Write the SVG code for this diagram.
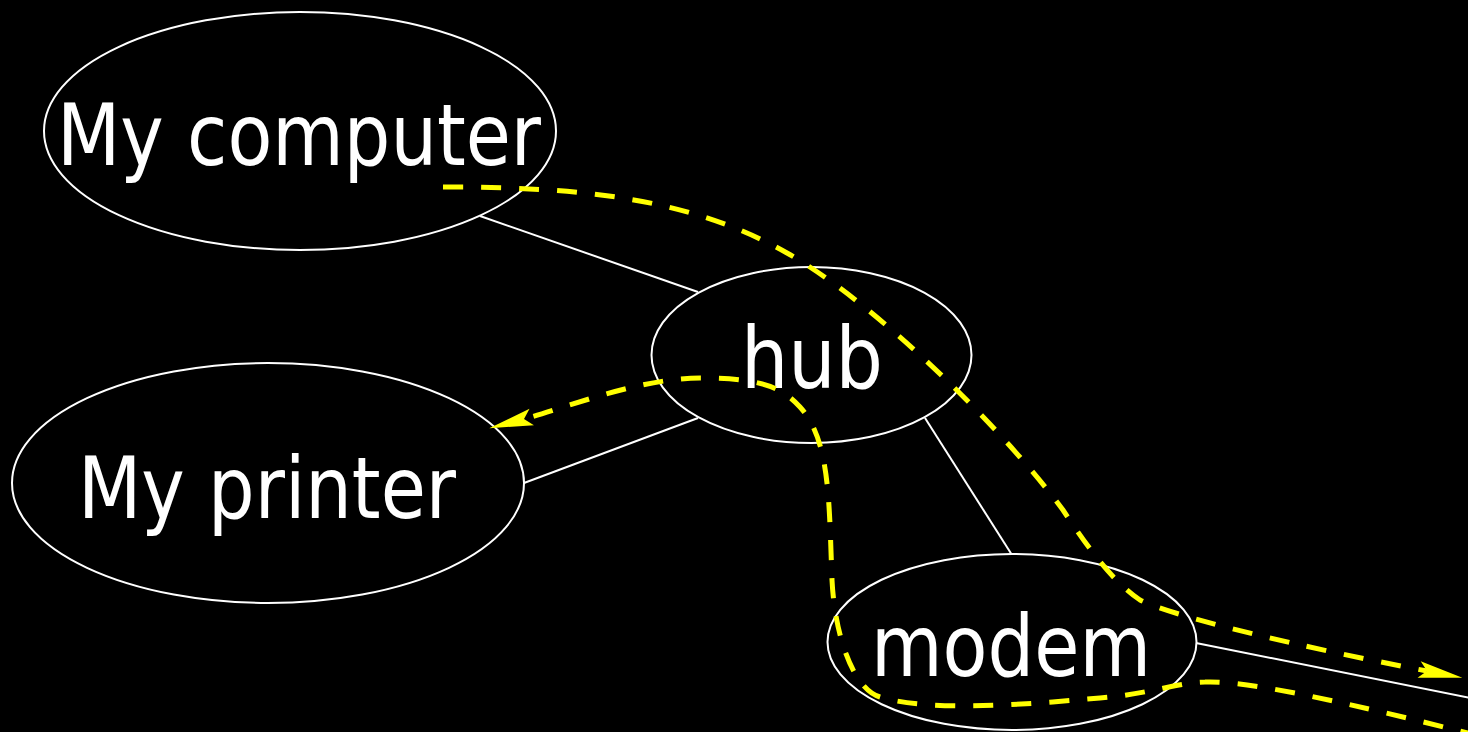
<svg xmlns="http://www.w3.org/2000/svg" width="1476" height="732" viewBox="0 0 1476 732">
  <style>
    .node ellipse { fill: #000000; stroke: #ffffff; stroke-width: 2; }
    .node text { fill: #ffffff; font-family: "DejaVu Sans", "Liberation Sans", sans-serif; font-stretch: condensed; font-size: 86px; text-anchor: middle; }
    .edge { stroke: #ffffff; stroke-width: 2; fill: none; }
    .flow { stroke: #ffff00; stroke-width: 5; fill: none; stroke-dasharray: 20 18; }
  </style>
  <defs>
    <marker id="arrow" markerUnits="userSpaceOnUse" viewBox="-46 -11 48 22" markerWidth="48" markerHeight="22" refX="-36" refY="0" orient="auto">
      <path d="M0,0 L-44,-8.5 L-36,0 L-44,8.5 Z" fill="#ffff00"/>
    </marker>
    <clipPath id="canvas"><rect x="0" y="0" width="1468" height="732"/></clipPath>
  </defs>
  <rect x="0" y="0" width="1476" height="732" fill="#ffffff"/>
  <rect x="0" y="0" width="1468" height="732" fill="#000000"/>
  <g clip-path="url(#canvas)">
    <g id="connectors">
      <line class="edge" x1="480" y1="216" x2="698" y2="292"/>
      <line class="edge" x1="698" y1="418" x2="524" y2="483"/>
      <line class="edge" x1="925" y1="418" x2="1012" y2="555"/>
      <line class="edge" x1="1196" y1="643" x2="1480" y2="700"/>
    </g>
    <g id="node-computer" class="node">
      <ellipse cx="300" cy="131" rx="256" ry="119"/>
      <text x="299" y="165" textLength="484" lengthAdjust="spacingAndGlyphs">My computer</text>
    </g>
    <g id="node-hub" class="node">
      <ellipse cx="811.5" cy="355" rx="160" ry="88"/>
      <text x="812" y="388" textLength="142" lengthAdjust="spacingAndGlyphs">hub</text>
    </g>
    <g id="node-printer" class="node">
      <ellipse cx="268" cy="483" rx="256" ry="120"/>
      <text x="267" y="518" textLength="378" lengthAdjust="spacingAndGlyphs">My printer</text>
    </g>
    <g id="node-modem" class="node">
      <ellipse cx="1012" cy="642" rx="184.5" ry="88"/>
      <text x="1011" y="676" textLength="280" lengthAdjust="spacingAndGlyphs">modem</text>
    </g>
    <g id="flows">
      <path class="flow" marker-end="url(#arrow)" d="M443,187 C573,187 687,196 787,253 C877,304 1003,429 1063,510 C1083,540 1110,580 1140,600 C1175,617 1300,647 1427,671"/>
      <path class="flow" marker-end="url(#arrow)" d="M1480,736 C1360,706 1250,680 1205,682 C1180,682 1150,694 1100,698 C1020,705 930,712 880,697 C855,690 835,640 832,580 C829,500 830,440 800,407 C782,387 760,378 700,378 C640,378 565,408 524,419"/>
    </g>
  </g>
</svg>
